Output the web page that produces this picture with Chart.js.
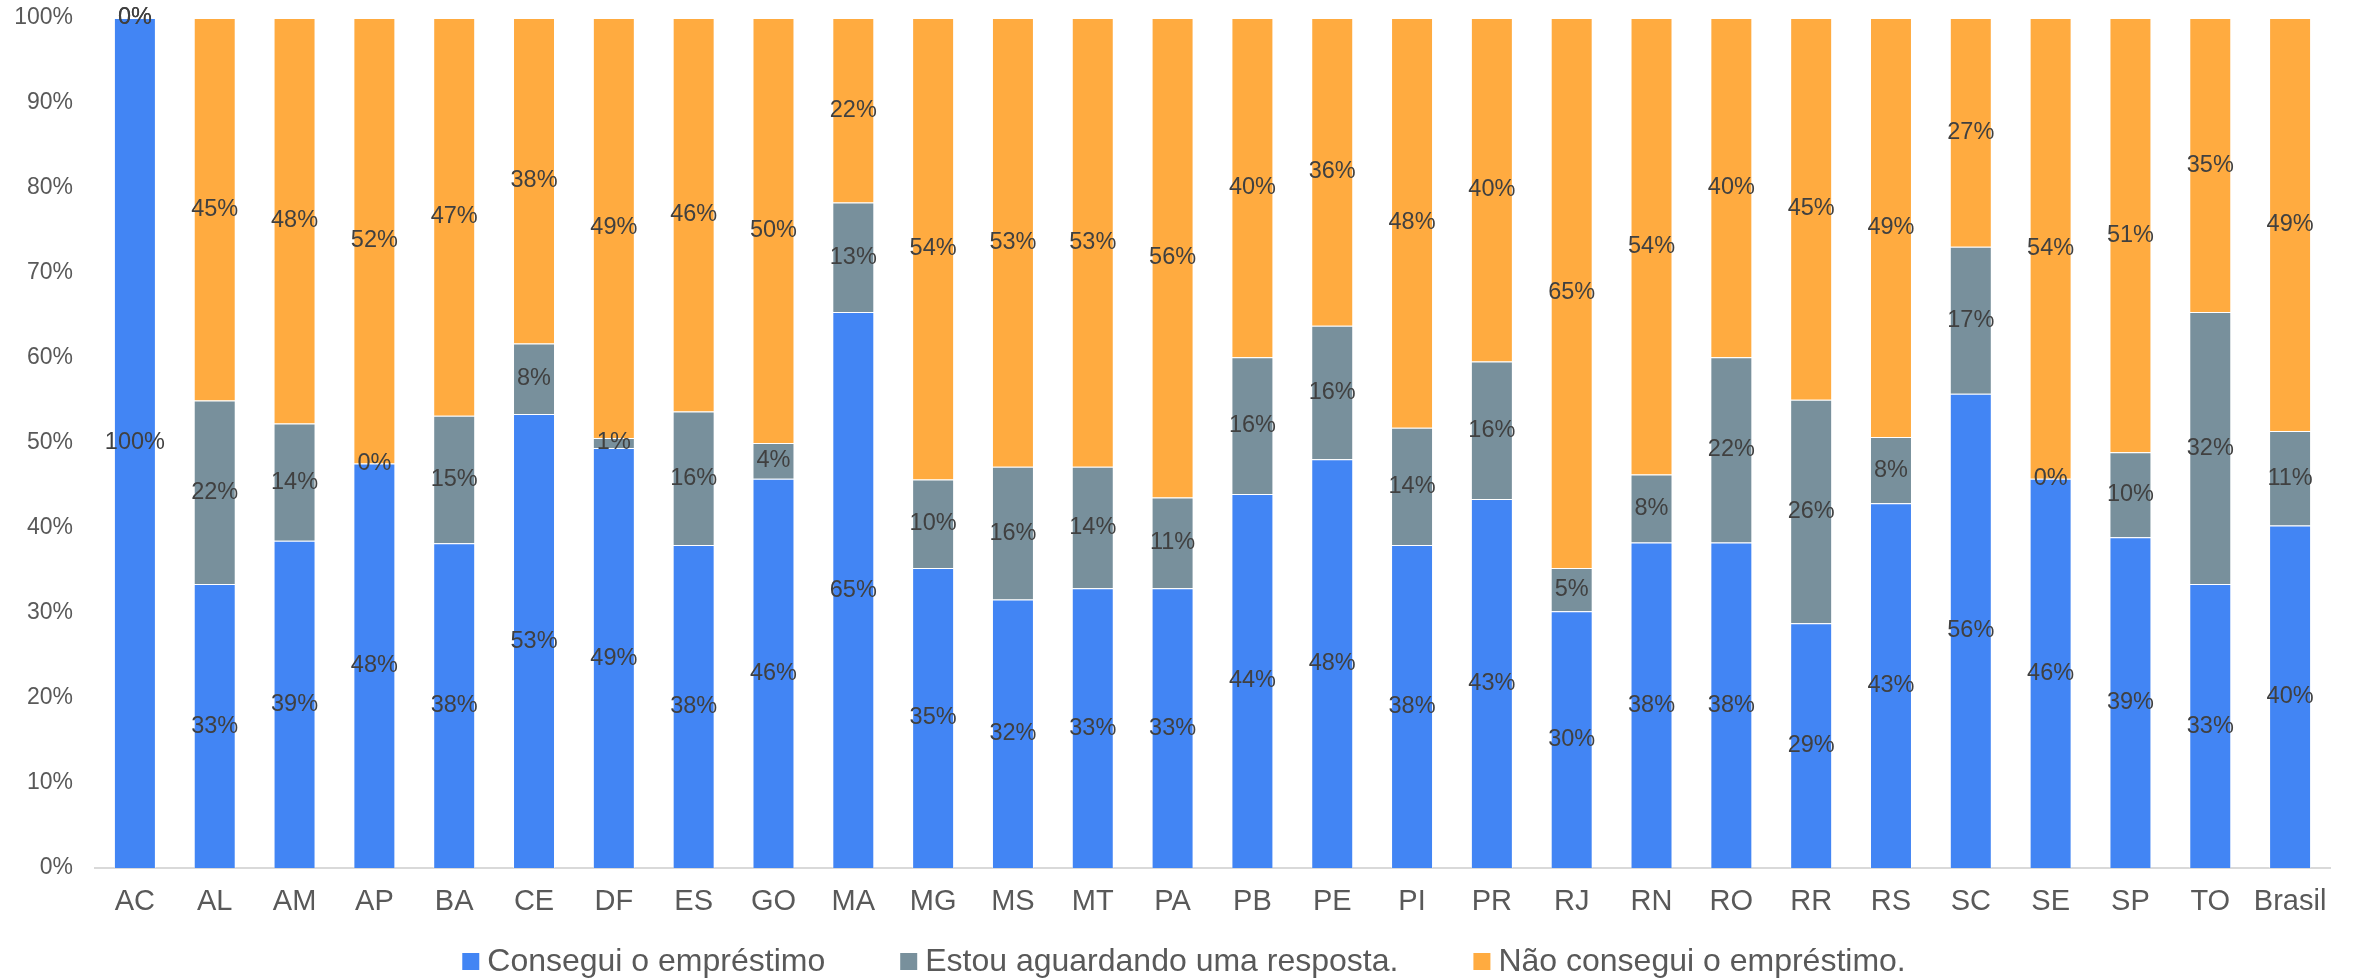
<!DOCTYPE html>
<html><head><meta charset="utf-8">
<script src="https://cdn.jsdelivr.net/npm/chart.js@4/dist/chart.umd.min.js"></script>
<style>html,body{margin:0;padding:0;background:#fff;overflow:hidden}#wrap{width:2354px;height:978px}</style>
</head><body><div id="wrap"><canvas id="c" width="2354" height="978"></canvas></div>
<script>
const categories = ['AC','AL','AM','AP','BA','CE','DF','ES','GO','MA','MG','MS','MT','PA','PB','PE','PI','PR','RJ','RN','RO','RR','RS','SC','SE','SP','TO','Brasil'];
const conseguiu =    [100, 33.4, 38.5, 47.6, 38.2, 53.4, 49.4, 38.0, 45.8, 65.4, 35.3, 31.6, 32.9, 32.9, 44.0, 48.1, 38.0, 43.4, 30.2, 38.3, 38.3, 28.8, 42.9, 55.8, 45.8, 38.9, 33.4, 40.3];
const aguardando =   [0,   21.6, 13.8, 0,    15.0, 8.3,  1.2,  15.7, 4.2,  12.9, 10.4, 15.6, 14.3, 10.7, 16.1, 15.7, 13.8, 16.2, 5.1,  8.0,  21.8, 26.3, 7.8,  17.3, 0,    10.0, 32.0, 11.1];
const naoConseguiu = [0,   45.0, 47.7, 52.4, 46.8, 38.3, 49.4, 46.3, 50.0, 21.7, 54.3, 52.8, 52.8, 56.4, 39.9, 36.2, 48.2, 40.4, 64.7, 53.7, 39.9, 44.9, 49.3, 26.9, 54.2, 51.1, 34.6, 48.6];
const seriesNames = ['Consegui o empréstimo', 'Estou aguardando uma resposta.', 'Não consegui o empréstimo.'];
const seriesColors = ['#4285F4', '#78909C', '#FFAB40'];
const yMin = 0, yMax = 100, yStep = 10;

const FONT = "'Liberation Sans', Arial, sans-serif";
Chart.defaults.font.family = FONT;

const dataLabels = {
  id: 'dataLabels',
  afterDatasetsDraw(chart) {
    const ctx = chart.ctx;
    ctx.save();
    ctx.font = '23.5px ' + FONT;
    ctx.fillStyle = '#404040';
    ctx.textAlign = 'center';
    ctx.textBaseline = 'middle';
    chart.data.datasets.forEach((ds, di) => {
      const meta = chart.getDatasetMeta(di);
      meta.data.forEach((el, i) => {
        const v = ds.data[i];
        const p = el.getProps(['x', 'y', 'base'], true);
        const yc = (p.y + p.base) / 2;
        ctx.fillText(Math.round(v) + '%', p.x, yc);
      });
    });
    ctx.restore();
  }
};

const customLegend = {
  id: 'customLegend',
  afterDraw(chart) {
    const ctx = chart.ctx;
    ctx.save();
    ctx.font = '32px ' + FONT;
    const box = 17, gapText = 8, gapItem = 75;
    const widths = chart.data.datasets.map(d => ctx.measureText(d.label).width);
    let total = 0;
    widths.forEach((w, i) => { total += box + gapText + w + (i < widths.length - 1 ? gapItem : 0); });
    let x = 1184 - total / 2;
    const yc = 961.5;
    ctx.textBaseline = 'middle';
    ctx.textAlign = 'left';
    chart.data.datasets.forEach((d, i) => {
      ctx.fillStyle = d.backgroundColor;
      ctx.fillRect(x, yc - box / 2, box, box);
      ctx.fillStyle = '#595959';
      ctx.fillText(d.label, x + box + gapText, yc + 1);
      x += box + gapText + widths[i] + gapItem;
    });
    ctx.restore();
  }
};

const series = [conseguiu, aguardando, naoConseguiu];
new Chart(document.getElementById('c'), {
  type: 'bar',
  data: {
    labels: categories,
    datasets: series.map((s, i) => ({
      label: seriesNames[i],
      data: s,
      backgroundColor: seriesColors[i],
      borderColor: 'rgba(255,255,255,0.45)',
      borderWidth: 1,
      barPercentage: 0.526,
      categoryPercentage: 1
    }))
  },
  options: {
    responsive: false,
    animation: false,
    devicePixelRatio: 1,
    layout: { padding: { left: 14, right: 24, top: 18, bottom: 58 } },
    plugins: { legend: { display: false }, tooltip: { enabled: false } },
    scales: {
      x: {
        stacked: true,
        grid: { display: false, drawTicks: false },
        border: { display: true, color: '#d9d9d9', width: 2 },
        ticks: { color: '#595959', font: { size: 29 }, padding: 17, maxRotation: 0, autoSkip: false },
        afterFit(scale) { scale.height = 52; }
      },
      y: {
        stacked: true,
        min: yMin, max: yMax,
        grid: { display: false, drawTicks: false },
        border: { display: false },
        ticks: { stepSize: yStep, color: '#595959', font: { size: 23 }, padding: 22, callback: v => v + '%' },
        afterFit(scale) { scale.width = 81; scale.paddingTop = 0; scale.paddingBottom = 0; }
      }
    }
  },
  plugins: [dataLabels, customLegend]
});
</script></body></html>
